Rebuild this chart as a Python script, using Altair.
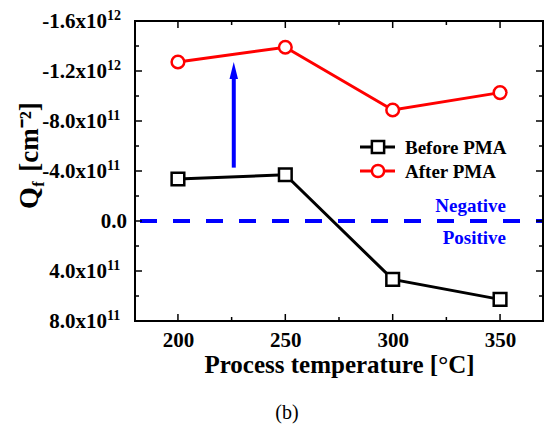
import altair as alt
import pandas as pd

# ---- data (Qf in units of 1e11 cm^-2; axis is reversed: negative up) ----
TEMPS = [200, 250, 300, 350]
BEFORE = [-3.36, -3.70, 4.67, 6.27]
AFTER = [-12.72, -13.90, -8.88, -10.27]
SERIES = ["Before PMA", "After PMA"]
COLORS = ["#000000", "#FF0000"]
SHAPES = ["square", "circle"]

X_MAJOR = [200, 250, 300, 350]
X_MINOR = [225, 275, 325]
Y_MAJOR = [-16, -12, -8, -4, 4, 8]
Y_MANT = ["-1.6x10", "-1.2x10", "-8.0x10", "-4.0x10", "4.0x10", "8.0x10"]
Y_EXP = ["12", "12", "11", "11", "11", "11"]
Y_ZERO = [0]
Y_ZERO_LABEL = ["0.0"]
Y_MINOR = [-14, -10, -6, -2, 2, 6]

ARROW_T = [226]
ARROW_FROM = [-4.27]
ARROW_TO = [-11.4]
ARROW_HEAD = [-12.04]

W, H = 408, 300
FONT = "Times New Roman, Liberation Serif, serif"
BLUE = "#0000FF"

xs = alt.Scale(domain=[180, 370], nice=False, zero=False)
ys = alt.Scale(domain=[-16, 8], reverse=True, nice=False, zero=False)

df = pd.DataFrame({
    "T": TEMPS * 2,
    "Q": BEFORE + AFTER,
    "series": [SERIES[0]] * len(TEMPS) + [SERIES[1]] * len(TEMPS),
})

x_axis = alt.Axis(
    values=X_MAJOR, ticks=False, domain=False, grid=False,
    labelFont=FONT, labelFontSize=21, labelFontWeight="bold", labelColor="black",
    labelPadding=8, title="Process temperature [°C]", titleFont=FONT,
    titleFontSize=25, titleFontWeight="bold", titleColor="black", titlePadding=2)
y_axis = alt.Axis(labels=False, ticks=False, domain=False, grid=False, title=None)


def X(field):
    return alt.X(field, scale=xs, axis=x_axis, title="Process temperature [°C]")


def Y(field):
    return alt.Y(field, scale=ys, axis=y_axis, title=None)


color = alt.Color("series:N", scale=alt.Scale(domain=SERIES, range=COLORS), legend=None)
shape = alt.Shape("series:N", scale=alt.Scale(domain=SERIES, range=SHAPES), legend=None)

lines = alt.Chart(df).mark_line(strokeWidth=3).encode(x=X("T:Q"), y=Y("Q:Q"), color=color)
points = alt.Chart(df).mark_point(fill="white", fillOpacity=1, strokeWidth=2.5,
                                  size=160, opacity=1).encode(
    x=X("T:Q"), y=Y("Q:Q"), color=color, shape=shape)

zero_df = pd.DataFrame({"Q": [0]})
zero_line = alt.Chart(zero_df).mark_rule(color=BLUE, strokeWidth=4,
                                         strokeDash=[17, 16], strokeDashOffset=10).encode(
    y=Y("Q:Q"))

arrow_df = pd.DataFrame({"T": ARROW_T, "Q": ARROW_FROM, "Q2": ARROW_TO, "Q3": ARROW_HEAD})
arrow_shaft = alt.Chart(arrow_df).mark_rule(color=BLUE, strokeWidth=4).encode(
    x=X("T:Q"), y=Y("Q:Q"), y2="Q2:Q")
arrow_head = alt.Chart(arrow_df).mark_point(
    shape="M0,-1L0.5,1L-0.5,1Z", filled=True, fill=BLUE, color=BLUE, size=289,
    opacity=1).encode(x=X("T:Q"), y=Y("Q3:Q"))

# ---- frame ----
frame = alt.Chart(pd.DataFrame({"f": [0]})).mark_rect(
    fill=None, fillOpacity=0, stroke="black", strokeWidth=2).encode(
    x=alt.value(0), x2=alt.value(W), y=alt.value(0), y2=alt.value(H))


# ---- inward ticks on all four sides ----
def yticks(vals, length):
    d = pd.DataFrame({"Q": vals})
    left = alt.Chart(d).mark_rule(color="black", strokeWidth=1.5).encode(
        y=Y("Q:Q"), x=alt.value(0), x2=alt.value(length))
    right = alt.Chart(d).mark_rule(color="black", strokeWidth=1.5).encode(
        y=Y("Q:Q"), x=alt.value(W - length), x2=alt.value(W))
    return [left, right]


def xticks(vals, length):
    d = pd.DataFrame({"T": vals})
    bottom = alt.Chart(d).mark_rule(color="black", strokeWidth=1.5).encode(
        x=X("T:Q"), y=alt.value(H), y2=alt.value(H - length))
    top = alt.Chart(d).mark_rule(color="black", strokeWidth=1.5).encode(
        x=X("T:Q"), y=alt.value(0), y2=alt.value(length))
    return [bottom, top]


tick_layers = (yticks(Y_MAJOR + Y_ZERO, 7) + yticks(Y_MINOR, 4)
               + xticks(X_MAJOR, 7) + xticks(X_MINOR, 4))

# ---- y tick labels with real superscripts ----
ylab_df = pd.DataFrame({"Q": Y_MAJOR, "mant": Y_MANT, "exp": Y_EXP})
ylab_mant = alt.Chart(ylab_df).mark_text(
    align="right", baseline="middle", font=FONT, fontSize=21, fontWeight="bold",
    color="black", dy=1).encode(y=Y("Q:Q"), x=alt.value(-28), text="mant:N")
ylab_exp = alt.Chart(ylab_df).mark_text(
    align="left", baseline="middle", font=FONT, fontSize=14, fontWeight="bold",
    color="black", dy=-5).encode(y=Y("Q:Q"), x=alt.value(-28), text="exp:N")
ylab_zero = alt.Chart(pd.DataFrame({"Q": Y_ZERO, "t": Y_ZERO_LABEL})).mark_text(
    align="right", baseline="middle", font=FONT, fontSize=21, fontWeight="bold",
    color="black", dy=1).encode(y=Y("Q:Q"), x=alt.value(-8), text="t:N")

# ---- legend ----
legend_layers = []
for i, (name, c, s) in enumerate(zip(SERIES, COLORS, SHAPES)):
    ly = 126 + 24 * i
    d = pd.DataFrame({"name": [name]})
    legend_layers.append(alt.Chart(d).mark_rule(color=c, strokeWidth=3).encode(
        x=alt.value(225), x2=alt.value(260), y=alt.value(ly)))
    legend_layers.append(alt.Chart(d).mark_point(
        shape=s, color=c, fill="white", fillOpacity=1, strokeWidth=2.5, size=150,
        opacity=1).encode(x=alt.value(243), y=alt.value(ly)))
    legend_layers.append(alt.Chart(d).mark_text(
        align="left", baseline="middle", font=FONT, fontSize=19, fontWeight="bold",
        color="black").encode(x=alt.value(270), y=alt.value(ly + 1), text="name:N"))

# ---- annotations ----
NOTE_TEXT = ["Negative", "Positive"]
NOTE_Y = [185, 217]
note_layers = []
for t, yy in zip(NOTE_TEXT, NOTE_Y):
    d = pd.DataFrame({"t": [t]})
    note_layers.append(alt.Chart(d).mark_text(
        align="right", baseline="middle", font=FONT, fontSize=19, fontWeight="bold",
        color=BLUE).encode(x=alt.value(371), y=alt.value(yy), text="t:N"))


def txt(s, x, y, size, weight="bold", angle=0):
    d = pd.DataFrame({"t": [s]})
    kw = dict(align="center", baseline="middle", font=FONT, fontSize=size,
              fontWeight=weight, color="black")
    if angle:
        kw["angle"] = angle
    return alt.Chart(d).mark_text(**kw).encode(x=alt.value(x), y=alt.value(y), text="t:N")


title_layers = [
    txt("Q", -105, 177, 28, angle=270),
    txt("f", -96, 163, 16, angle=270),
    txt("[cm⁻²]", -105, 116, 27, angle=270),
    txt("(b)", 152, 392, 20, weight="normal"),
]

chart = alt.layer(
    lines, zero_line, arrow_shaft, arrow_head, points, frame,
    *tick_layers, ylab_mant, ylab_exp, ylab_zero,
    *legend_layers, *note_layers, *title_layers
).properties(
    width=W, height=H,
    autosize=alt.AutoSizeParams(type="none"),
    padding={"left": 135, "top": 21, "right": 7, "bottom": 106},
    background="white",
).configure_view(stroke=None)

chart.save("out.html", embed_options={"renderer": "svg", "actions": False})
